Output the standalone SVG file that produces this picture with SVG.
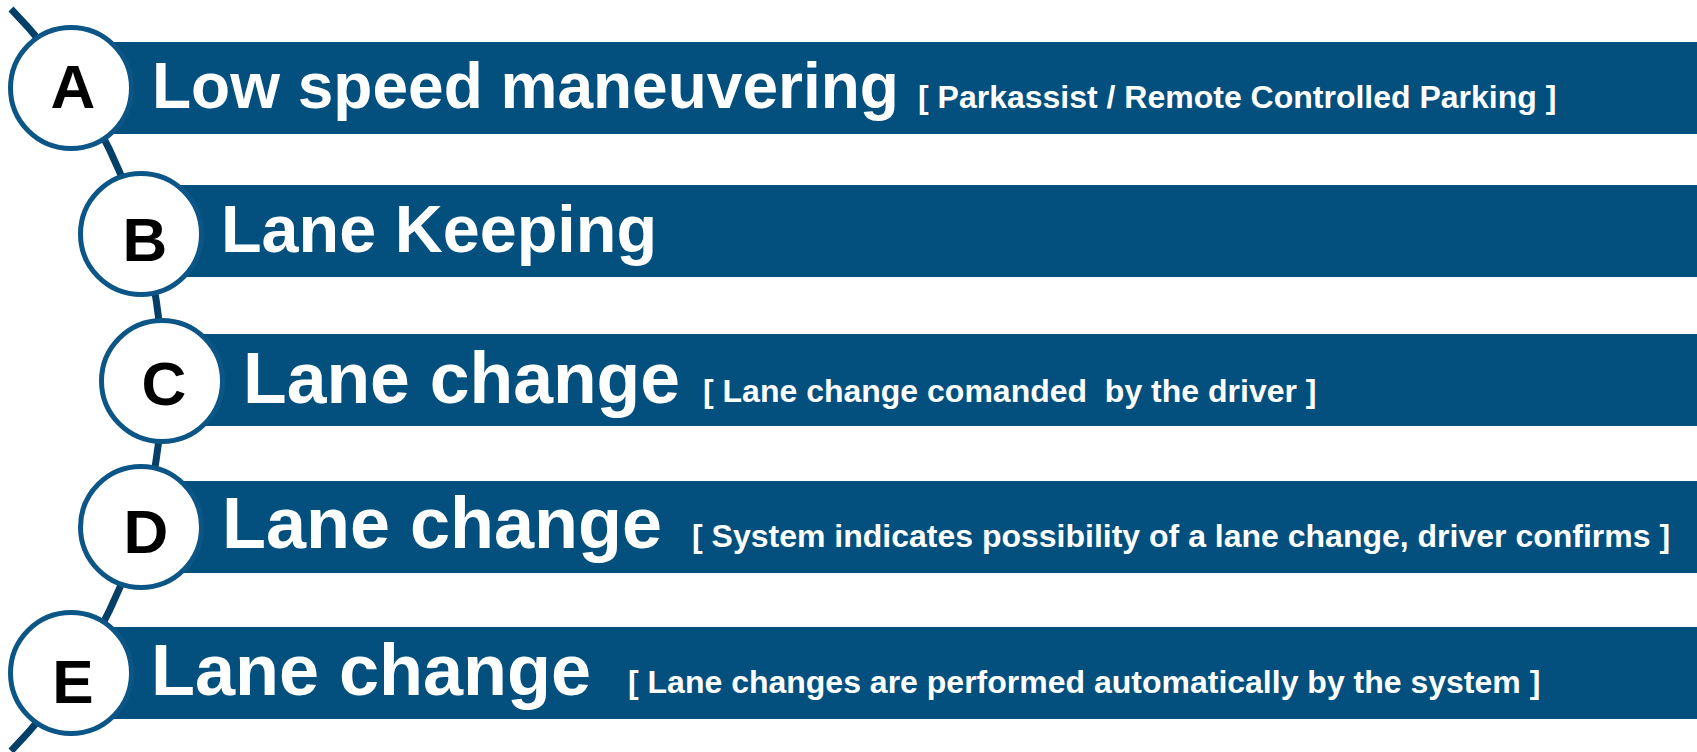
<svg xmlns="http://www.w3.org/2000/svg" width="1697" height="752" viewBox="0 0 1697 752">
  <style>
    .bar { fill: #03507f; }
    .badge { fill: #ffffff; stroke: #0c5687; stroke-width: 5; }
    .letter { font-family: "Liberation Sans", Arial, sans-serif; font-weight: bold; font-size: 62px; fill: #000000; text-anchor: middle; }
    .title { font-family: "Liberation Sans", Arial, sans-serif; font-weight: bold; fill: #ffffff; }
    .note { font-family: "Liberation Sans", Arial, sans-serif; font-weight: bold; font-size: 32px; fill: #ffffff; white-space: pre; }
    .spine { fill: none; stroke: #043f68; stroke-width: 7; }
  </style>

  <!-- curved spine joining the level badges -->
  <g id="connectors">
    <path class="spine" d="M 11 9 A 531 531 0 0 1 11 751"/>
  </g>

  <g id="level-a">
    <rect class="bar" x="71" y="42" width="1626" height="92"/>
    <circle class="badge" cx="71" cy="88" r="60.5"/>
    <text class="letter" x="73" y="108">A</text>
    <text class="title" x="152" y="108" font-size="64">Low speed maneuvering</text>
    <text class="note" x="918" y="108">[ Parkassist / Remote Controlled Parking ]</text>
  </g>

  <g id="level-b">
    <rect class="bar" x="141" y="185" width="1556" height="92"/>
    <circle class="badge" cx="141" cy="234" r="60.5"/>
    <text class="letter" x="145" y="261">B</text>
    <text class="title" x="221" y="252" font-size="66.5">Lane Keeping</text>
  </g>

  <g id="level-c">
    <rect class="bar" x="162" y="334" width="1535" height="92"/>
    <circle class="badge" cx="162" cy="381" r="60.5"/>
    <text class="letter" x="164" y="405">C</text>
    <text class="title" x="243" y="403" font-size="71.5">Lane change</text>
    <text class="note" x="703" y="402">[ Lane change comanded  by the driver ]</text>
  </g>

  <g id="level-d">
    <rect class="bar" x="141" y="481" width="1556" height="92"/>
    <circle class="badge" cx="141" cy="527" r="60.5"/>
    <text class="letter" x="146" y="553">D</text>
    <text class="title" x="222" y="548" font-size="72">Lane change</text>
    <text class="note" x="692" y="547">[ System indicates possibility of a lane change, driver confirms ]</text>
  </g>

  <g id="level-e">
    <rect class="bar" x="71" y="627" width="1626" height="92"/>
    <circle class="badge" cx="71" cy="673" r="60.5"/>
    <text class="letter" x="73" y="703">E</text>
    <text class="title" x="151" y="695" font-size="72">Lane change</text>
    <text class="note" x="628" y="693">[ Lane changes are performed automatically by the system ]</text>
  </g>
</svg>
